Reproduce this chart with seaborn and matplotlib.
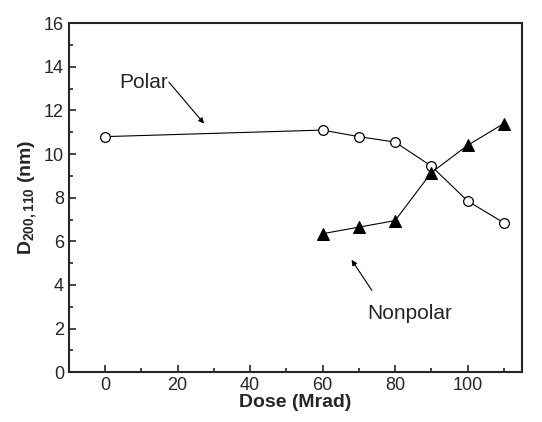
import matplotlib
matplotlib.use("Agg")
import matplotlib.pyplot as plt
import seaborn as sns
import pandas as pd
from matplotlib.ticker import MultipleLocator

# dados
dose_polar = [0, 60, 70, 80, 90, 100, 110]
d_polar = [10.8, 11.1, 10.8, 10.55, 9.45, 7.85, 6.85]
dose_nonpolar = [60, 70, 80, 90, 100, 110]
d_nonpolar = [6.35, 6.65, 6.95, 9.15, 10.4, 11.4]

sns.set_style("ticks")
plt.rcParams['font.family'] = ['Liberation Sans', 'DejaVu Sans']
plt.rcParams['mathtext.fontset'] = 'custom'
plt.rcParams['mathtext.bf'] = 'Liberation Sans:bold'

df_p = pd.DataFrame({'Dose': dose_polar, 'D': d_polar})
df_n = pd.DataFrame({'Dose': dose_nonpolar, 'D': d_nonpolar})

fig = plt.figure(figsize=(5.42, 4.22), dpi=100)
ax = fig.add_axes([0.127, 0.118, 0.836, 0.827])

sns.lineplot(data=df_p, x='Dose', y='D', ax=ax, color='black', lw=0.8,
             marker='o', markersize=7, markerfacecolor='white',
             markeredgecolor='black', markeredgewidth=0.9)
sns.lineplot(data=df_n, x='Dose', y='D', ax=ax, color='black', lw=0.8,
             marker='^', markersize=9, markerfacecolor='black',
             markeredgecolor='black')

ax.set_xlim(-10, 115)
ax.set_ylim(0, 16)
ax.xaxis.set_major_locator(MultipleLocator(20))
ax.xaxis.set_minor_locator(MultipleLocator(10))
ax.yaxis.set_major_locator(MultipleLocator(2))
ax.yaxis.set_minor_locator(MultipleLocator(1))
ax.tick_params(which='both', direction='in', top=False, right=False,
               labelsize=13, width=1.2)
ax.tick_params(which='major', length=5)
ax.tick_params(which='minor', length=3)
for s in ax.spines.values():
    s.set_linewidth(1.5)

ax.set_xlabel('Dose (Mrad)', fontsize=14, fontweight='bold', labelpad=0)
ax.set_ylabel(r'D$_{\mathbf{200,110}}$ (nm)', fontsize=14, fontweight='bold', labelpad=3)

# anotacoes com setas
ax.text(4, 13.3, 'Polar', fontsize=15, va='center', ha='left')
ax.annotate('', xy=(27.3, 11.4), xytext=(17.6, 13.3),
            arrowprops=dict(arrowstyle='-|>', color='black', lw=0.8,
                            mutation_scale=8, shrinkA=0, shrinkB=0))
ax.text(84, 2.7, 'Nonpolar', fontsize=15, va='center', ha='center')
ax.annotate('', xy=(68.0, 5.15), xytext=(73.6, 3.75),
            arrowprops=dict(arrowstyle='-|>', color='black', lw=0.8,
                            mutation_scale=8, shrinkA=0, shrinkB=0))

fig.savefig('out.png', dpi=100)
